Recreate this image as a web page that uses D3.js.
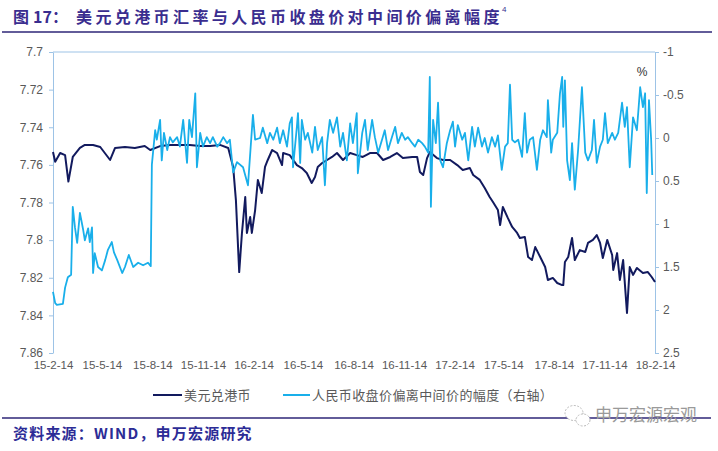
<!DOCTYPE html>
<html><head><meta charset="utf-8">
<script src="https://cdn.jsdelivr.net/npm/d3@7"></script>
<style>body{margin:0;background:#fff;} svg{display:block;}</style>
</head><body>
<svg id="c" width="718" height="451"></svg>
<script>
// ---------- DATA ----------
const titlePrefix = "图 17：";
const titleMain = "美元兑港币汇率与人民币收盘价对中间价偏离幅度";
const titleNote = "4";
const sourceText = "资料来源：WIND，申万宏源研究";
const watermark = "申万宏源宏观";
const seriesNames = ["美元兑港币", "人民币收盘价偏离中间价的幅度（右轴）"];
const unitRight = "%";

const leftTicks = [7.7, 7.72, 7.74, 7.76, 7.78, 7.8, 7.82, 7.84, 7.86];
const rightTicks = [-1, -0.5, 0, 0.5, 1, 1.5, 2, 2.5];
const xTickDates = ["2015-02-14","2015-05-14","2015-08-14","2015-11-14","2016-02-14","2016-05-14",
  "2016-08-14","2016-11-14","2017-02-14","2017-05-14","2017-08-14","2017-11-14","2018-02-14"];

// USD/HKD (left axis)
const hkdDates = [
"2015-02-14","2015-02-18","2015-02-27","2015-03-08","2015-03-14","2015-03-22","2015-04-04","2015-04-13","2015-04-28","2015-05-11",
"2015-05-29","2015-06-07","2015-06-25","2015-07-13","2015-07-31","2015-08-10","2015-08-28","2015-09-15","2015-10-03","2015-10-21",
"2015-11-09","2015-11-27","2015-12-15","2015-12-30","2016-01-08","2016-01-13","2016-01-19","2016-01-24","2016-01-30","2016-02-02",
"2016-02-08","2016-02-11","2016-02-17","2016-02-22","2016-02-29","2016-03-06","2016-03-11","2016-03-19","2016-03-28","2016-04-06",
"2016-04-08","2016-04-20","2016-05-03","2016-05-12","2016-05-21","2016-05-30","2016-06-05","2016-06-10","2016-06-18","2016-06-27",
"2016-07-06","2016-07-15","2016-07-26","2016-08-08","2016-08-20","2016-08-31","2016-09-13","2016-09-26","2016-10-07","2016-10-20",
"2016-11-01","2016-11-12","2016-11-29","2016-12-08","2016-12-13","2016-12-19","2016-12-26","2016-12-31","2017-01-13","2017-01-24",
"2017-02-06","2017-02-19","2017-03-01","2017-03-14","2017-03-20","2017-04-01","2017-04-10","2017-04-19","2017-04-25","2017-05-04",
"2017-05-08","2017-05-13","2017-05-22","2017-05-30","2017-06-08","2017-06-13","2017-06-22","2017-06-28","2017-07-05","2017-07-11",
"2017-07-20","2017-07-29","2017-08-03","2017-08-12","2017-08-20","2017-08-29","2017-08-31","2017-09-03","2017-09-09","2017-09-16",
"2017-09-21","2017-09-30","2017-10-10","2017-10-15","2017-10-24","2017-10-31","2017-11-06","2017-11-11","2017-11-19","2017-11-28",
"2017-11-30","2017-12-07","2017-12-12","2017-12-18","2017-12-25","2017-12-30","2018-01-05","2018-01-12","2018-01-23","2018-02-01",
"2018-02-08","2018-02-14"];
const hkdValues = [
7.7532,7.7583,7.7537,7.7548,7.7689,7.7558,7.7510,7.7494,7.7494,7.7505,
7.7574,7.7510,7.7505,7.7510,7.7500,7.7521,7.7500,7.7494,7.7494,7.7494,
7.7500,7.7500,7.7494,7.7510,7.7611,7.7787,7.8170,7.7962,7.7771,7.7962,
7.7877,7.7962,7.7840,7.7680,7.7750,7.7611,7.7574,7.7521,7.7537,7.7601,
7.7537,7.7548,7.7601,7.7617,7.7643,7.7696,7.7665,7.7611,7.7590,7.7574,
7.7558,7.7537,7.7574,7.7537,7.7548,7.7558,7.7537,7.7537,7.7574,7.7558,
7.7537,7.7564,7.7558,7.7558,7.7638,7.7654,7.7564,7.7532,7.7564,7.7574,
7.7574,7.7601,7.7627,7.7617,7.7654,7.7680,7.7723,7.7771,7.7797,7.7840,
7.7920,7.7824,7.7882,7.7930,7.7962,7.7989,7.7983,7.8090,7.8106,7.8037,
7.8090,7.8143,7.8212,7.8201,7.8228,7.8239,7.8239,7.8116,7.8090,7.7989,
7.8106,7.8053,7.8063,7.8015,7.7999,7.7973,7.8015,7.8095,7.7999,7.8079,
7.8159,7.8069,7.8212,7.8106,7.8387,7.8143,7.8185,7.8148,7.8175,7.8170,
7.8196,7.8223];

// RMB close deviation from central parity, % (right axis)
const rmbDates = [
"2015-02-14","2015-02-18","2015-02-21","2015-03-04","2015-03-08","2015-03-13","2015-03-19","2015-03-22","2015-03-26","2015-03-30",
"2015-04-04","2015-04-10","2015-04-13","2015-04-19","2015-04-22","2015-04-26","2015-04-28","2015-05-01","2015-05-07","2015-05-14",
"2015-05-20","2015-05-25","2015-06-01","2015-06-05","2015-06-11","2015-06-20","2015-06-25","2015-07-02","2015-07-10","2015-07-19",
"2015-07-28","2015-08-06","2015-08-11","2015-08-13","2015-08-19","2015-08-22","2015-08-28","2015-08-31","2015-09-04","2015-09-10",
"2015-09-15","2015-09-20","2015-09-28","2015-10-03","2015-10-09","2015-10-16","2015-10-20","2015-10-25","2015-10-31","2015-11-03",
"2015-11-09","2015-11-14","2015-11-21","2015-11-27","2015-12-02","2015-12-10","2015-12-15","2015-12-21","2015-12-28","2016-01-02",
"2016-01-08","2016-01-15","2016-01-26","2016-02-04","2016-02-13","2016-02-17","2016-02-26","2016-03-02","2016-03-10","2016-03-15",
"2016-03-21","2016-03-28","2016-04-02","2016-04-08","2016-04-15","2016-04-20","2016-04-24","2016-04-26","2016-05-03","2016-05-05",
"2016-05-09","2016-05-12","2016-05-18","2016-05-23","2016-05-31","2016-06-05","2016-06-10","2016-06-18","2016-06-23","2016-06-27",
"2016-07-02","2016-07-08","2016-07-15","2016-07-21","2016-07-26","2016-08-02","2016-08-08","2016-08-13","2016-08-20","2016-08-22",
"2016-08-30","2016-09-04","2016-09-09","2016-09-17","2016-09-22","2016-09-28","2016-10-05","2016-10-10","2016-10-16","2016-10-23",
"2016-10-29","2016-11-03","2016-11-10","2016-11-16","2016-11-21","2016-11-29","2016-12-04","2016-12-10","2016-12-17","2016-12-22",
"2016-12-28","2016-12-31","2017-01-02","2017-01-06","2017-01-11","2017-01-15","2017-01-19","2017-01-24","2017-01-31","2017-02-06",
"2017-02-11","2017-02-15","2017-02-20","2017-02-28","2017-03-05","2017-03-11","2017-03-18","2017-03-23","2017-03-29","2017-04-05",
"2017-04-10","2017-04-16","2017-04-23","2017-04-29","2017-05-04","2017-05-11","2017-05-17","2017-05-22","2017-05-26","2017-05-30",
"2017-06-04","2017-06-10","2017-06-17","2017-06-22","2017-06-26","2017-07-01","2017-07-07","2017-07-14","2017-07-20","2017-07-25",
"2017-08-01","2017-08-03","2017-08-09","2017-08-12","2017-08-20","2017-08-25","2017-08-29","2017-08-31","2017-09-03","2017-09-07",
"2017-09-12","2017-09-16","2017-09-21","2017-09-27","2017-10-04","2017-10-10","2017-10-15","2017-10-22","2017-10-26","2017-10-31",
"2017-11-06","2017-11-11","2017-11-15","2017-11-20","2017-11-28","2017-12-03","2017-12-09","2017-12-16","2017-12-21","2017-12-25",
"2017-12-30","2018-01-05","2018-01-12","2018-01-18","2018-01-23","2018-01-27","2018-01-30","2018-02-03","2018-02-07","2018-02-09"];
const rmbValues = [
1.79,1.92,1.94,1.93,1.74,1.62,1.59,0.80,1.04,1.22,
0.87,1.07,1.19,1.05,1.21,1.04,1.57,1.34,1.50,1.54,
1.42,1.30,1.21,1.33,1.42,1.57,1.50,1.36,1.50,1.45,
1.48,1.45,1.49,0.31,-0.09,0.02,-0.21,0.26,-0.06,0.14,
-0.01,0.05,-0.01,0.10,-0.21,0.29,-0.21,-0.01,-0.52,0.34,
-0.06,0.10,-0.01,0.06,-0.01,0.10,0.06,-0.01,0.06,0.02,
0.40,0.28,0.34,0.55,-0.27,0.02,0.00,-0.12,0.06,-0.06,
0.02,-0.12,0.06,-0.09,0.10,-0.17,-0.24,0.34,-0.13,-0.29,
0.29,-0.21,0.02,-0.06,0.17,-0.13,0.14,-0.01,0.55,0.06,
-0.21,-0.06,-0.24,0.10,-0.06,0.26,-0.17,0.06,-0.29,0.41,
-0.06,-0.21,0.14,-0.21,-0.01,0.17,0.02,-0.09,0.14,-0.01,
-0.13,0.06,-0.06,0.02,-0.01,0.06,0.10,0.02,0.06,0.10,
0.17,-0.71,0.80,-0.21,0.06,-0.41,0.26,0.34,0.06,-0.09,
-0.19,0.10,-0.15,0.02,-0.06,0.26,-0.13,0.10,-0.12,0.10,
0.00,0.17,-0.01,0.10,-0.03,0.37,0.10,0.06,-0.62,0.02,
0.05,0.02,0.22,-0.29,0.17,0.02,-0.01,0.37,0.02,-0.09,
-0.01,-0.44,0.17,0.02,-0.06,-0.52,-0.71,-0.13,-0.67,0.26,
0.49,0.06,0.60,0.14,-0.59,0.17,0.26,0.14,-0.21,0.29,
0.10,0.02,-0.29,0.06,-0.06,0.02,-0.06,-0.41,-0.13,-0.36,
0.34,-0.24,-0.09,-0.59,-0.36,-0.52,0.64,-0.44,0.02,0.43];

// ---------- CHART ----------
const parse = d3.timeParse("%Y-%m-%d");
const svg = d3.select("#c");
const latin = "'Liberation Sans', Arial, sans-serif";
const cjk = "'Noto Sans CJK SC', 'Noto Sans', sans-serif";
const axisColor = "#9DC3E6";
const labelColor = "#595959";
const navy = "#121A5E";
const cyan = "#19AFEA";

const x = d3.scaleTime().domain([parse(xTickDates[0]), parse(xTickDates[xTickDates.length-1])]).range([53, 655]);
const yL = d3.scaleLinear().domain([leftTicks[0], leftTicks[leftTicks.length-1]]).range([52, 353]);
const yR = d3.scaleLinear().domain([rightTicks[0], rightTicks[rightTicks.length-1]]).range([52, 353]);

// title
const t = svg.append("text").attr("y", 23).attr("font-family", cjk).attr("font-weight", "bold")
  .attr("font-size", 16).attr("fill", "#3A2D8F");
t.append("tspan").attr("x", 13).text(titlePrefix.slice(0,1));
t.append("tspan").attr("x", 33).text(titlePrefix.slice(2));
t.append("tspan").attr("x", 76).attr("letter-spacing", 3.4).text(titleMain);
svg.append("text").attr("x", 502).attr("y", 12).attr("font-family", latin).attr("font-size", 8)
  .attr("fill", "#3A2D8F").text(titleNote);
svg.append("line").attr("x1", 2).attr("x2", 712).attr("y1", 32).attr("y2", 32)
  .attr("stroke", "#2E2677").attr("stroke-width", 1.5);

// top border
svg.append("line").attr("x1", 53).attr("x2", 655).attr("y1", 52).attr("y2", 52)
  .attr("stroke", axisColor).attr("stroke-width", 1);

// left axis
const gL = svg.append("g").attr("transform", "translate(53,0)")
  .call(d3.axisLeft(yL).tickValues(leftTicks).tickSize(4).tickSizeOuter(0).tickPadding(6)
    .tickFormat(d => String(+d.toFixed(2))));
// right axis
const gR = svg.append("g").attr("transform", "translate(655,0)")
  .call(d3.axisRight(yR).tickValues(rightTicks).tickSize(4).tickSizeOuter(0).tickPadding(4)
    .tickFormat(d => String(d)));
[gL, gR].forEach(g => {
  g.select(".domain").attr("stroke", axisColor);
  g.selectAll(".tick line").attr("stroke", axisColor);
  g.selectAll("text").attr("fill", labelColor).attr("font-family", latin).attr("font-size", 12);
});

// x axis (labels only)
const gX = svg.append("g").attr("transform", "translate(0,353)")
  .call(d3.axisBottom(x).tickValues(xTickDates.map(parse)).tickSize(0).tickPadding(8)
    .tickFormat(d3.timeFormat("%y-%-m-%d")));
gX.select(".domain").remove();
gX.selectAll("text").attr("fill", labelColor).attr("font-family", latin).attr("font-size", 11.5);

// unit
svg.append("text").attr("x", 642).attr("y", 76).attr("text-anchor", "middle")
  .attr("font-family", latin).attr("font-size", 12).attr("fill", "#333").text(unitRight);

// series
const hkd = hkdDates.map((d, i) => ({ date: parse(d), v: hkdValues[i] }));
const rmb = rmbDates.map((d, i) => ({ date: parse(d), v: rmbValues[i] }));
svg.append("path").datum(hkd).attr("fill", "none").attr("stroke", navy).attr("stroke-width", 2)
  .attr("stroke-linejoin", "round")
  .attr("d", d3.line().x(d => x(d.date)).y(d => yL(d.v)));
svg.append("path").datum(rmb).attr("fill", "none").attr("stroke", cyan).attr("stroke-width", 1.8)
  .attr("stroke-linejoin", "round")
  .attr("d", d3.line().x(d => x(d.date)).y(d => yR(d.v)));

// legend
const leg = [{ x1: 153, x2: 182, c: navy, tx: 184 }, { x1: 283, x2: 310, c: cyan, tx: 312 }];
leg.forEach((l, i) => {
  svg.append("line").attr("x1", l.x1).attr("x2", l.x2).attr("y1", 395).attr("y2", 395)
    .attr("stroke", l.c).attr("stroke-width", 2);
  svg.append("text").attr("x", l.tx).attr("y", 400).attr("font-family", cjk).attr("font-size", 13)
    .attr("letter-spacing", 0.4).attr("fill", labelColor).text(seriesNames[i]);
});

// footer
svg.append("line").attr("x1", 2).attr("x2", 711).attr("y1", 418).attr("y2", 418)
  .attr("stroke", "#2E2677").attr("stroke-width", 1.5);
svg.append("text").attr("x", 13).attr("y", 439).attr("font-family", cjk).attr("font-weight", "bold")
  .attr("font-size", 15).attr("letter-spacing", 1.2).attr("fill", "#2C2C96").text(sourceText);

// watermark
const wm = svg.append("g");
wm.append("ellipse").attr("cx", 574).attr("cy", 413).attr("rx", 9).attr("ry", 7.5)
  .attr("fill", "#fff").attr("stroke", "#bbb").attr("stroke-width", 1).attr("stroke-dasharray", "2,1.5");
wm.append("ellipse").attr("cx", 583).attr("cy", 420).attr("rx", 7).attr("ry", 6)
  .attr("fill", "#fff").attr("stroke", "#bbb").attr("stroke-width", 1).attr("stroke-dasharray", "2,1.5");
wm.append("text").attr("x", 595).attr("y", 421).attr("font-family", cjk).attr("font-size", 17)
  .attr("fill", "#9a9a9a").text(watermark);
</script>
</body></html>
